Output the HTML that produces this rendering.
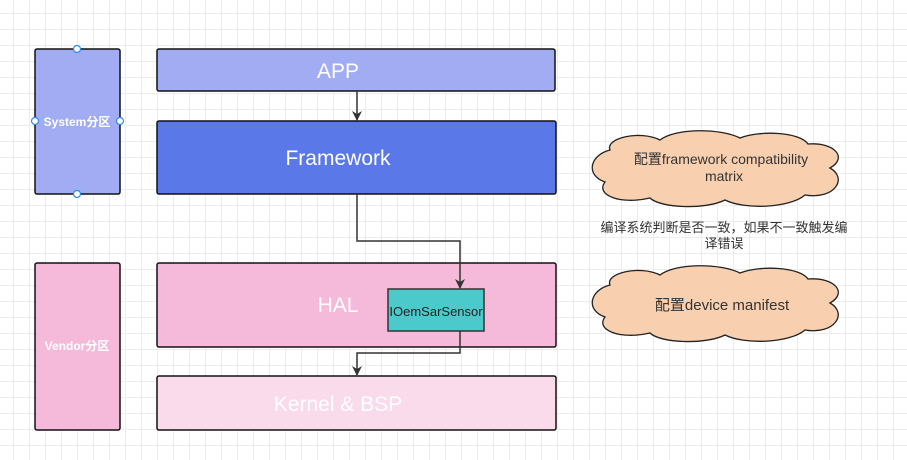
<!DOCTYPE html>
<html><head><meta charset="utf-8"><style>
html,body{margin:0;padding:0}
body{width:907px;height:460px;overflow:hidden;background-color:#fff;
background-image:linear-gradient(#ededed 1px,transparent 1px),linear-gradient(90deg,#ededed 1px,transparent 1px);
background-size:16px 16px;background-position:-3px -3px;font-family:"Liberation Sans","Noto Sans CJK SC",sans-serif}
</style></head><body>
<svg width="907" height="460" xmlns="http://www.w3.org/2000/svg" style="position:absolute;left:0;top:0">
<defs><marker id="a" markerWidth="10" markerHeight="10" refX="9" refY="5" orient="auto" markerUnits="userSpaceOnUse">
<path d="M0,0 L10,5 L0,10 L3,5 Z" fill="#333"/></marker></defs>
<g stroke="#111" stroke-width="1.5">
<rect x="35" y="49" width="85" height="145" rx="2" fill="#a2acf2"/>
<rect x="157" y="49" width="398" height="42" rx="2" fill="#a2acf2"/>
<rect x="157" y="121" width="399" height="73" rx="2" fill="#5b78e8"/>
<rect x="35" y="263" width="85" height="167" rx="2" fill="#f5b9da"/>
<rect x="157" y="263" width="399" height="84" rx="2" fill="#f5b9da"/>
<rect x="157" y="376" width="399" height="54" rx="2" fill="#fadbec"/>
</g>
<rect x="388" y="289" width="96" height="42" fill="#4ccacb" stroke="#333" stroke-width="1.5"/>
<g fill="none" stroke="#333" stroke-width="1.5">
<path d="M357,91 V120" marker-end="url(#a)"/>
<path d="M357,194 V241 H460 V288" marker-end="url(#a)"/>
<path d="M460,331 V353 H357 V375" marker-end="url(#a)"/>
</g>
<g fill="#fff" stroke="#2a8cf0" stroke-width="1.2">
<circle cx="77" cy="49" r="3.5"/><circle cx="77" cy="194" r="3.5"/><circle cx="35" cy="121" r="3.5"/><circle cx="120" cy="121" r="3.5"/>
</g>
<g fill="#f8d0b0" stroke="#222" stroke-width="1.3">
<path d="M610,150 C605,138 640,130 660,140 C675,128 720,128 740,138 C760,130 800,132 808,144 C835,142 848,158 830,168 C848,178 835,200 805,195 C790,208 745,210 725,200 C705,210 660,208 650,198 C620,205 595,195 605,182 C585,175 590,155 610,150 Z"/>
<path d="M610,285 C605,273 640,265 660,275 C675,263 720,263 740,273 C760,265 800,267 808,279 C835,277 848,293 830,303 C848,313 835,335 805,330 C790,343 745,345 725,335 C705,345 660,343 650,333 C620,340 595,330 605,317 C585,310 590,290 610,285 Z"/>
</g>
<g font-family="Liberation Sans, Noto Sans CJK SC, sans-serif" text-anchor="middle">
<text x="77" y="126" font-size="12" font-weight="bold" fill="#fff">System分区</text>
<text x="77" y="350" font-size="12" font-weight="bold" fill="#fff">Vendor分区</text>
<text x="338" y="78" font-size="21" fill="#fff">APP</text>
<text x="338" y="165" font-size="21" fill="#fff">Framework</text>
<text x="338" y="312" font-size="21" fill="#fff">HAL</text>
<text x="338" y="411" font-size="21" fill="#fff">Kernel &amp; BSP</text>
<text x="436" y="316" font-size="13" fill="#222">IOemSarSensor</text>
<text x="721" y="164" font-size="14" fill="#333">配置framework compatibility</text>
<text x="724" y="181" font-size="14" fill="#333">matrix</text>
<text x="724" y="232" font-size="13" fill="#333">编译系统判断是否一致，如果不一致触发编</text>
<text x="724" y="248" font-size="13" fill="#333">译错误</text>
<text x="722" y="310" font-size="15" fill="#333">配置device manifest</text>
</g>
</svg>
</body></html>
